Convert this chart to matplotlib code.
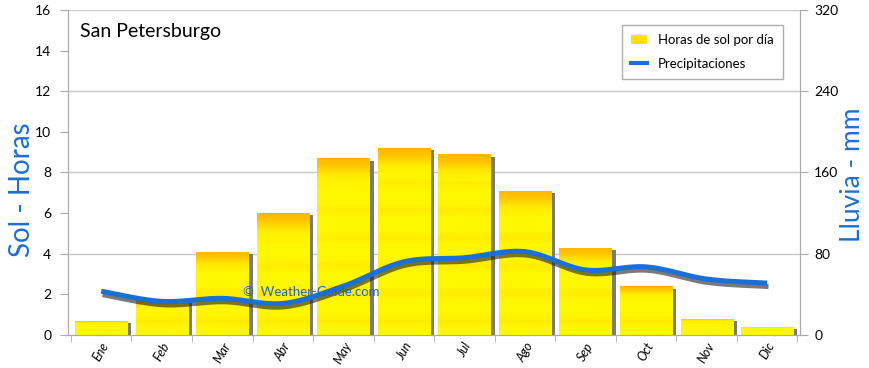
import numpy as np
import matplotlib
matplotlib.use("Agg")
import matplotlib.pyplot as plt
import matplotlib.patheffects as pe
from matplotlib.colors import LinearSegmentedColormap
from matplotlib.patches import Patch
from matplotlib.lines import Line2D

months = ["Ene", "Feb", "Mar", "Abr", "May", "Jun", "Jul", "Ago", "Sep", "Oct", "Nov", "Dic"]
sun_hours = [0.7, 1.7, 4.1, 6.0, 8.7, 9.2, 8.9, 7.1, 4.3, 2.4, 0.8, 0.4]
rain_mm = [43, 33, 36, 31, 48, 72, 76, 82, 64, 67, 55, 51]

title = "San Petersburgo"
left_label = "Sol - Horas"
right_label = "Lluvia - mm"
legend_bar = "Horas de sol por día"
legend_line = "Precipitaciones"
watermark = "©  Weather-Guide.com"

plt.rcParams['font.family'] = ['Lato', 'DejaVu Sans']
blue = "#1a6fd8"

fig = plt.figure(figsize=(8.7, 3.68), dpi=100)
ax = fig.add_axes([0.078, 0.09, 0.842, 0.883])
ax2 = ax.twinx()

x = np.arange(len(months))
width = 0.86

cmap = LinearSegmentedColormap.from_list("sun", ["#FFF700", "#FFEA00", "#FFC400", "#FFB000"])

for xi, h in zip(x, sun_hours):
    # shadow
    ax.bar(xi + 0.07, h - 0.12, width=width, color="#7a7a7a", zorder=2)
    b = ax.bar(xi, h, width=width, color="#FFEE00", zorder=3)[0]
    # gradient texture: orange band near the top
    top_band = min(1.3, h * 0.25)
    yy = np.linspace(0, h, 200).reshape(-1, 1)
    arr = np.clip((yy - (h - top_band)) / top_band, 0, 1) * 0.9
    arr = arr + 0.25 * np.sin(yy * 2.3) ** 8 * (yy < h - top_band)
    im = ax.imshow(arr, cmap=cmap, vmin=0, vmax=1, origin="lower", aspect="auto",
                   extent=(xi - width / 2, xi + width / 2, 0, h), zorder=3.5)
    im.set_clip_path(b)

ax.set_xlim(-0.55, 11.55)
ax.set_ylim(0, 16)
ax.set_yticks(np.arange(0, 17, 2))
ax.set_xticks(x)
ax.set_xticklabels(months, rotation=60, fontsize=9, style="italic")
ax.set_xticks(np.arange(-0.5, 12, 1), minor=True)
ax.tick_params(axis="x", which="major", length=0, pad=4)
ax.tick_params(axis="x", which="minor", length=5, color="#aaaaaa")
ax.tick_params(axis="y", length=6, color="#aaaaaa", labelsize=10, pad=6)
for yv in [4, 8, 12, 16]:
    ax.axhline(yv, color="#c8c8c8", lw=1, zorder=1)

ax2.set_ylim(0, 320)
ax2.set_yticks([0, 80, 160, 240, 320])
ax2.tick_params(axis="y", length=6, color="#aaaaaa", labelsize=10, pad=4)

for a in (ax, ax2):
    a.spines["top"].set_visible(False)
    for s in ["left", "right", "bottom"]:
        a.spines[s].set_color("#aaaaaa")

# smooth curve through rain points (Catmull-Rom) for drawing
pts = np.array(list(zip(x, rain_mm)), dtype=float)
P = np.vstack([pts[0], pts, pts[-1]])
cx, cy = [], []
t = np.linspace(0, 1, 25)
for i in range(1, len(P) - 2):
    p0, p1, p2, p3 = P[i - 1], P[i], P[i + 1], P[i + 2]
    for tt in t[:-1]:
        c = 0.5 * ((2 * p1) + (-p0 + p2) * tt + (2 * p0 - 5 * p1 + 4 * p2 - p3) * tt ** 2
                   + (-p0 + 3 * p1 - 3 * p2 + p3) * tt ** 3)
        cx.append(c[0]); cy.append(c[1])
cx.append(pts[-1][0]); cy.append(pts[-1][1])

ax2.plot(cx, cy, color=blue, lw=3.6, solid_capstyle="butt", zorder=5,
         path_effects=[pe.SimpleLineShadow(offset=(1, -2.5), shadow_color="#222222", alpha=0.6, rho=1),
                       pe.Normal()])
ax.set_zorder(1)
ax2.set_zorder(2)
ax2.patch.set_visible(False)

fig.text(80 / 870, 1 - 31 / 368, title, fontsize=14, ha="left", va="center")
fig.text(22 / 870, 1 - 190 / 368, left_label, rotation=90, color=blue, fontsize=20, ha="center", va="center")
fig.text(853 / 870, 1 - 175 / 368, right_label, rotation=90, color=blue, fontsize=19, ha="center", va="center")
fig.text(243 / 870, 1 - 292 / 368, watermark, color="#2060d0", fontsize=9.5, ha="left", va="center", zorder=10)

handles = [Patch(facecolor="#FFE000", edgecolor="none"), Line2D([0], [0], color=blue, lw=3)]
leg = ax2.legend(handles, [legend_bar, legend_line], loc="upper right", bbox_to_anchor=(0.985, 0.975),
                 fontsize=9.5, frameon=True, fancybox=False, edgecolor="#999999", handlelength=1.2,
                 borderpad=0.7, labelspacing=0.9)
leg.get_frame().set_linewidth(1)

fig.savefig("out.png", dpi=100)
